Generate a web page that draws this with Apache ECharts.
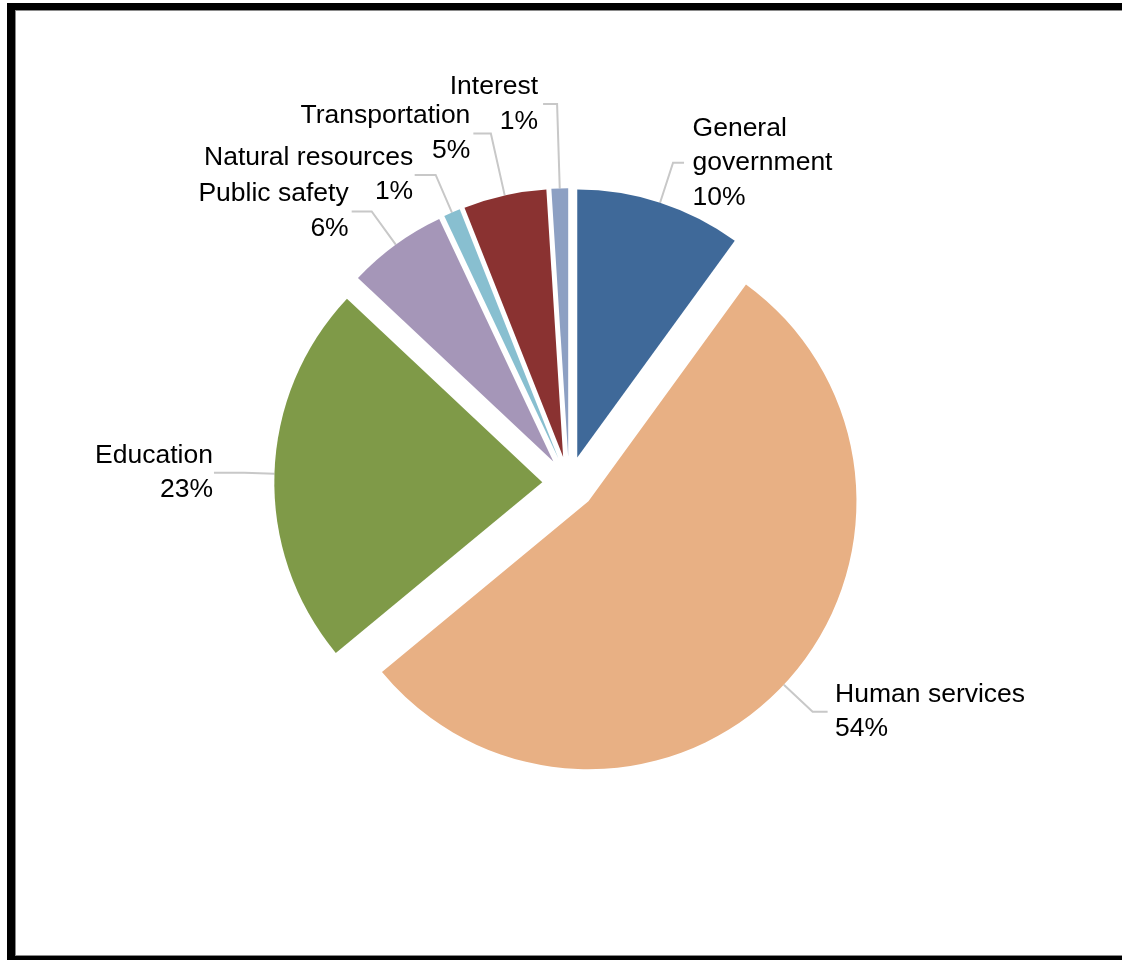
<!DOCTYPE html>
<html>
<head>
<meta charset="utf-8">
<script src="https://cdn.jsdelivr.net/npm/echarts@6/dist/echarts.min.js"></script>
<style>
  html, body { margin: 0; padding: 0; background: #fff; overflow: hidden; width: 1122px; height: 960px; }
  #frameBlack { position: absolute; left: 7px; top: 3px; width: 1300px; height: 1100px; border-left: 8px solid #000; border-top: 7px solid #000; box-sizing: border-box; }
  #frameGray { position: absolute; left: 15px; top: 10px; width: 1300px; height: 946px; border-left: 1px solid #8a8a8a; border-top: 1px solid #8a8a8a; border-bottom: 1px solid #8a8a8a; box-sizing: border-box; }
  #frameBottom { position: absolute; left: 7px; top: 956px; width: 1300px; height: 10px; background: #000; }
  #chart { position: absolute; left: 0; top: 0; width: 1122px; height: 960px; z-index: 2; }
</style>
</head>
<body>
<div id="frameBlack"></div>
<div id="frameGray"></div>
<div id="frameBottom"></div>
<div id="chart"></div>
<script>
// ---- data ----
const categories = ['General government', 'Human services', 'Education', 'Public safety', 'Natural resources', 'Transportation', 'Interest'];
const shares = [10, 54, 23, 6, 1, 5, 1];

// ---- styles ----
const colors = ['#3F6999', '#E8B084', '#7F9A48', '#A596B8', '#88BFD0', '#8A3231', '#8DA0C3'];
const leaderRadial = [42, 39.5, 30, 41, 41, 63.5, 84.5];
const leaderHorizontal = [11, 15, 30.5, 20, 21, 17.5, 14];
const leaderGap = [8.5, 7.5, 1, 3, 1.5, 3, 5];
const labelWidth = [145, null, null, null, null, null, null];

const chart = echarts.init(document.getElementById('chart'), null, { renderer: 'canvas' });

const seriesData = categories.map((name, i) => {
  const item = {
    name: name,
    value: shares[i],
    selected: true,
    itemStyle: { color: colors[i] },
    label: { distanceToLabelLine: leaderGap[i] },
    labelLine: { length: leaderRadial[i], length2: leaderHorizontal[i] },
    select: { itemStyle: { color: colors[i], borderWidth: 0 } }
  };
  if (labelWidth[i]) {
    item.label.width = labelWidth[i];
    item.label.overflow = 'break';
  }
  return item;
});

chart.setOption({
  animation: false,
  backgroundColor: 'transparent',
  series: [{
    type: 'pie',
    center: [569, 483],
    radius: 268,
    startAngle: 90,
    clockwise: true,
    selectedMode: 'multiple',
    selectedOffset: 26.7,
    avoidLabelOverlap: false,
    stateAnimation: { duration: 0 },
    emphasis: { disabled: true },
    itemStyle: { borderWidth: 0 },
    labelLayout: { hideOverlap: false },
    label: {
      show: true,
      position: 'outside',
      alignTo: 'none',
      fontFamily: 'Liberation Sans, Arial, sans-serif',
      fontSize: 26.5,
      lineHeight: 34.5,
      padding: [5, 0, 0, 0],
      color: '#000',
      formatter: p => p.name + '\n' + Math.round(p.percent) + '%'
    },
    labelLine: {
      show: true,
      smooth: false,
      minTurnAngle: 80,
      lineStyle: { color: '#C8C8C8', width: 2 }
    },
    data: seriesData
  }]
});
</script>
</body>
</html>
